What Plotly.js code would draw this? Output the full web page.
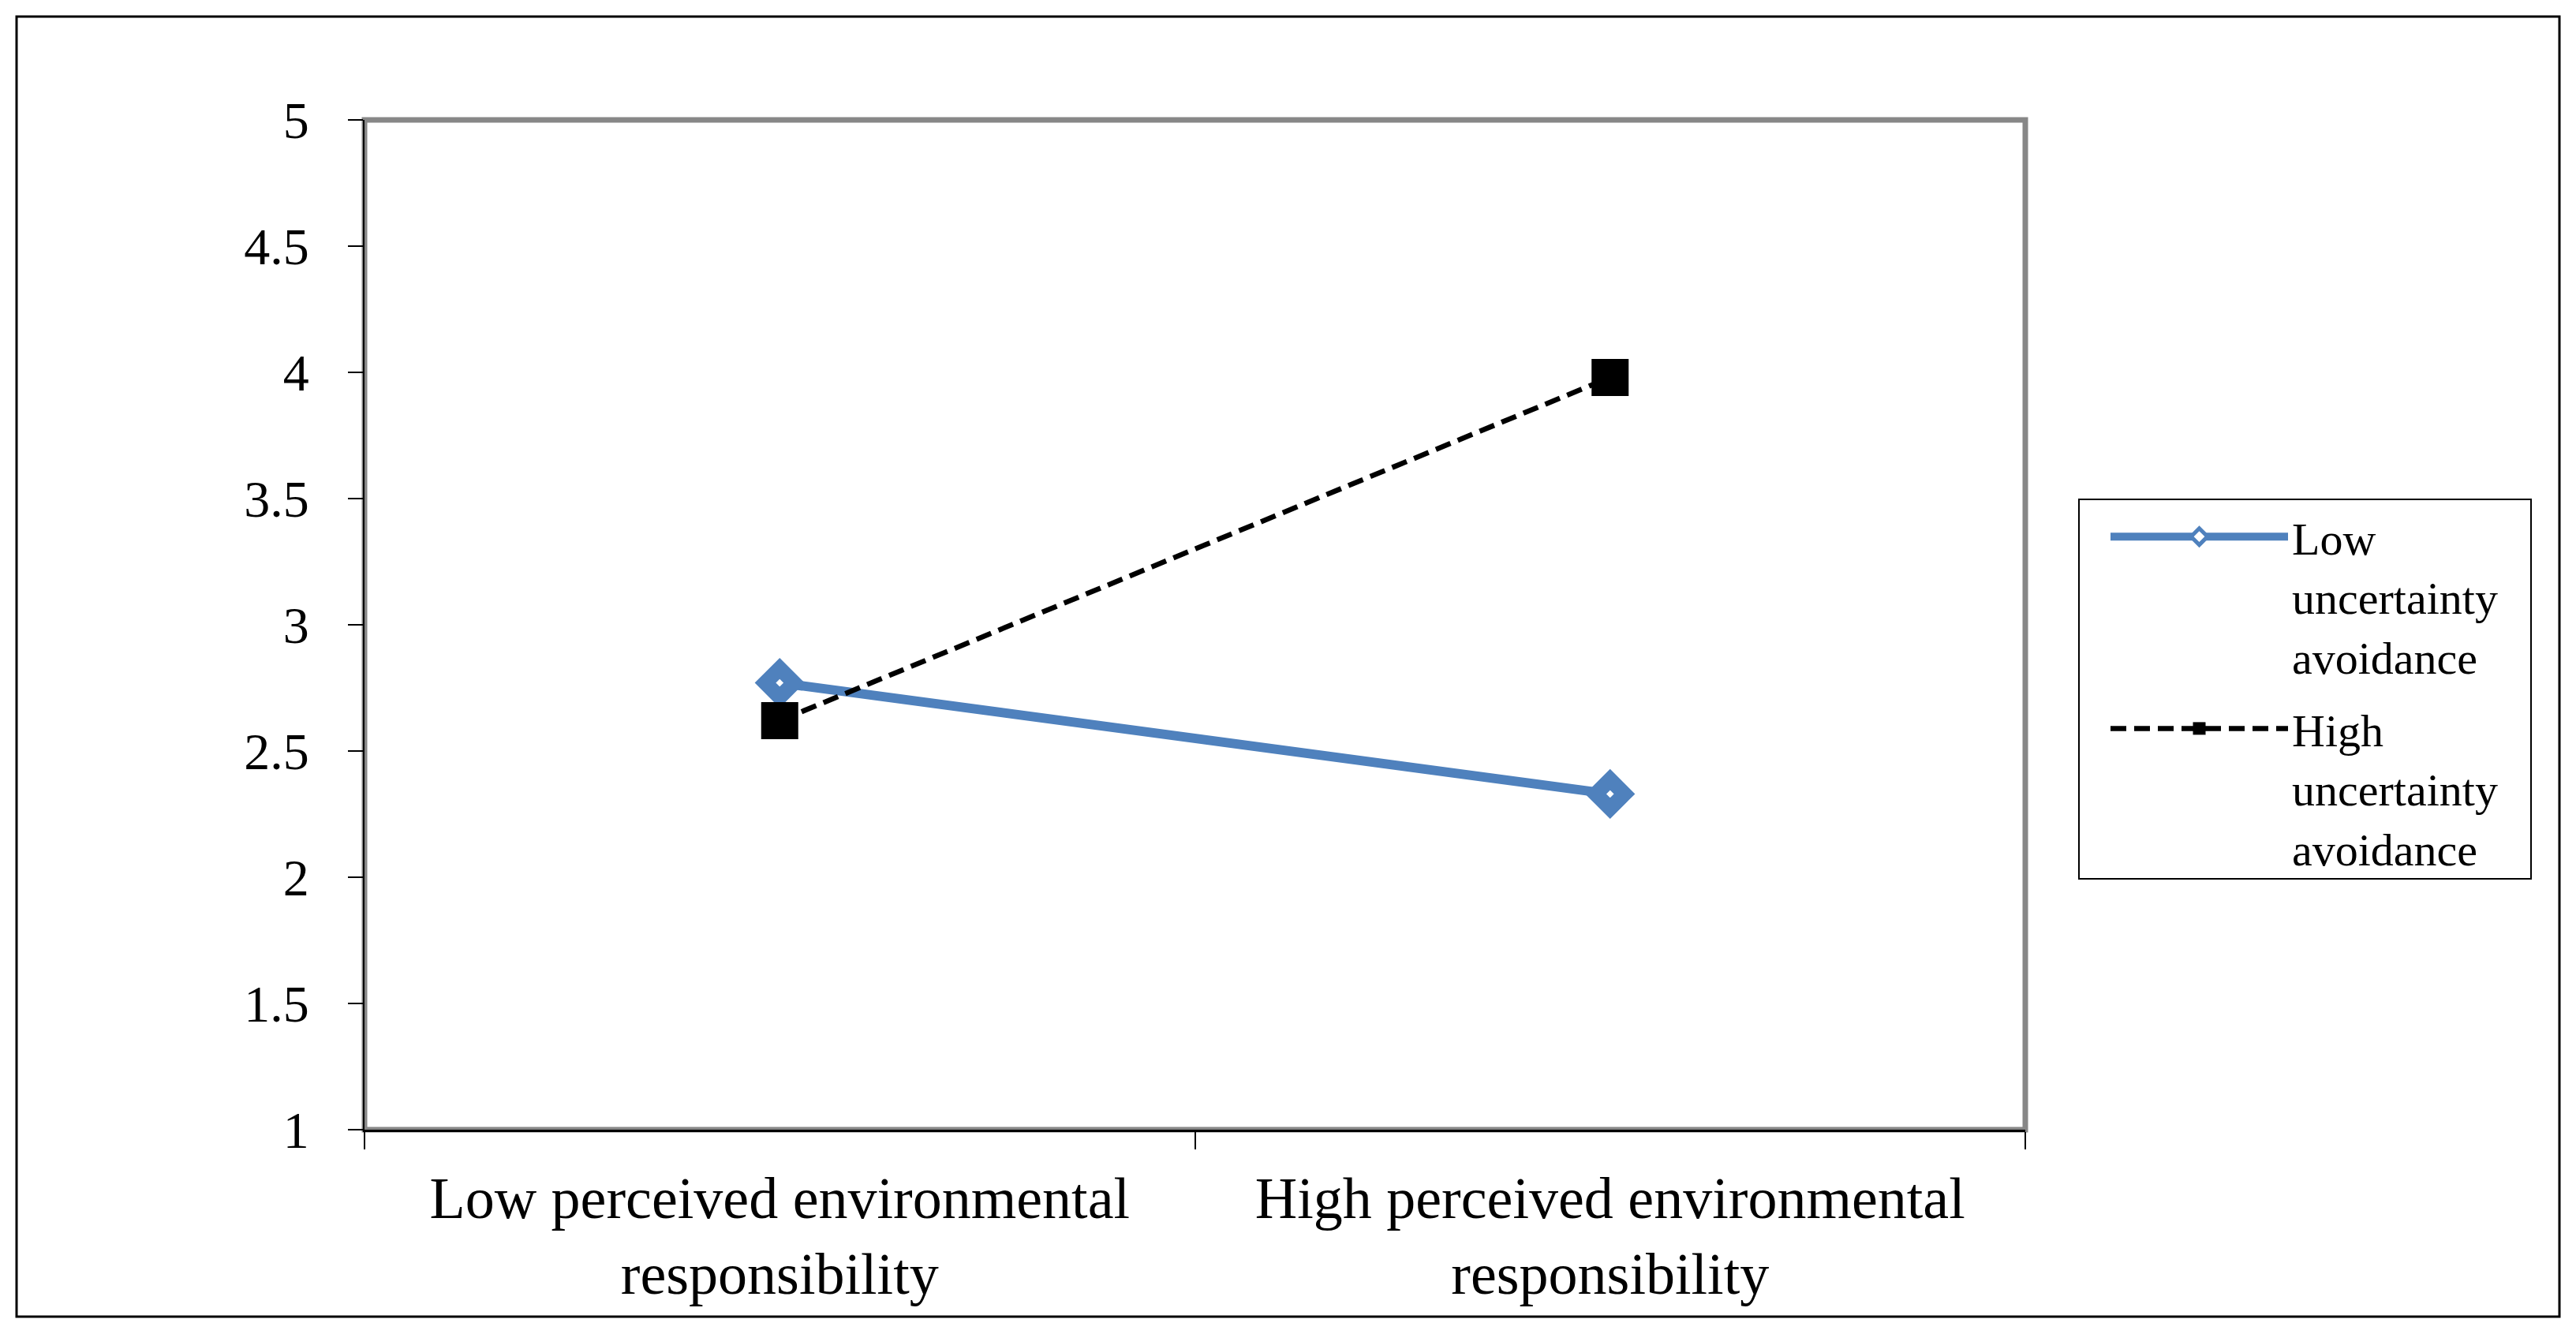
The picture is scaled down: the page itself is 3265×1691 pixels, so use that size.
<!DOCTYPE html>
<html>
<head>
<meta charset="utf-8">
<script src="https://cdn.plot.ly/plotly-3.0.1.min.js"></script>
<style>html,body{margin:0;padding:0;background:#fff;}#chart{width:3265px;height:1691px;}</style>
</head>
<body>
<div id="chart"></div>
<script>
const categories = ["Low perceived environmental<br>responsibility", "High perceived environmental<br>responsibility"];
const seriesNames = ["Low<br>uncertainty<br>avoidance", "High<br>uncertainty<br>avoidance"];
const lowUA = [2.77, 2.33];
const highUA = [2.62, 3.98];
const yTicks = [1, 1.5, 2, 2.5, 3, 3.5, 4, 4.5, 5];

const FONT = '"Liberation Serif", "Times New Roman", Times, serif';
const W = 3265, H = 1691;
const M = {l: 462, r: 698, t: 152, b: 259};
const PW = W - M.l - M.r, PH = H - M.t - M.b;
const px = x => (x - M.l) / PW;
const py = y => (H - M.b - y) / PH;

const traces = [
  {
    type: 'scatter', mode: 'lines+markers', name: seriesNames[0], legendgroup: 'low',
    x: categories, y: lowUA,
    line: {color: '#4F81BD', width: 12},
    marker: {symbol: 'diamond', size: 28, color: '#FFFFFF', line: {color: '#4F81BD', width: 19}}
  },
  {
    type: 'scatter', mode: 'lines+markers', name: seriesNames[1], legendgroup: 'high',
    x: categories, y: highUA,
    line: {color: '#000000', width: 6.5, dash: '20px,10px'},
    marker: {symbol: 'square', size: 47, color: '#000000', line: {width: 0}}
  }
];

const layout = {
  width: W, height: H,
  margin: M,
  paper_bgcolor: '#FFFFFF', plot_bgcolor: '#FFFFFF',
  font: {family: FONT, color: '#000000'},
  showlegend: true,
  xaxis: {
    type: 'category', range: [-0.5, 1.5],
    tickson: 'boundaries', ticks: 'outside', ticklen: 22, tickwidth: 2, tickcolor: '#000',
    showline: true, linecolor: '#000', linewidth: 3,
    showgrid: false, zeroline: false,
    tickfont: {family: FONT, size: 74, color: '#000'},
    ticklabelstandoff: 20
  },
  yaxis: {
    range: [1, 5], tickvals: yTicks, ticktext: yTicks.map(String),
    ticks: 'outside', ticklen: 19, tickwidth: 2, tickcolor: '#000',
    showline: true, linecolor: '#000', linewidth: 2,
    showgrid: false, zeroline: false,
    tickfont: {family: FONT, size: 66, color: '#000'},
    ticklabelstandoff: 36
  },
  legend: {
    x: px(2670), xanchor: 'left', y: py(636), yanchor: 'top',
    borderwidth: 0, bgcolor: 'rgba(0,0,0,0)',
    font: {family: FONT, size: 58, color: '#000'},
    itemwidth: 225, valign: 'top', tracegroupgap: 14
  },
  shapes: [
    {type: 'rect', xref: 'paper', yref: 'paper', x0: 0, x1: 1, y0: 0, y1: 1,
     line: {color: '#878787', width: 7}, layer: 'below'},
    {type: 'rect', xref: 'paper', yref: 'paper', x0: px(21), x1: px(3244), y0: py(1669), y1: py(21),
     line: {color: '#000', width: 3}, layer: 'below'},
    {type: 'rect', xref: 'paper', yref: 'paper', x0: px(2635), x1: px(3208), y0: py(1114), y1: py(633),
     line: {color: '#000', width: 2}, fillcolor: 'rgba(0,0,0,0)', layer: 'below'}
  ]
};

Plotly.newPlot('chart', traces, layout, {displayModeBar: false, staticPlot: true});
</script>
</body>
</html>
